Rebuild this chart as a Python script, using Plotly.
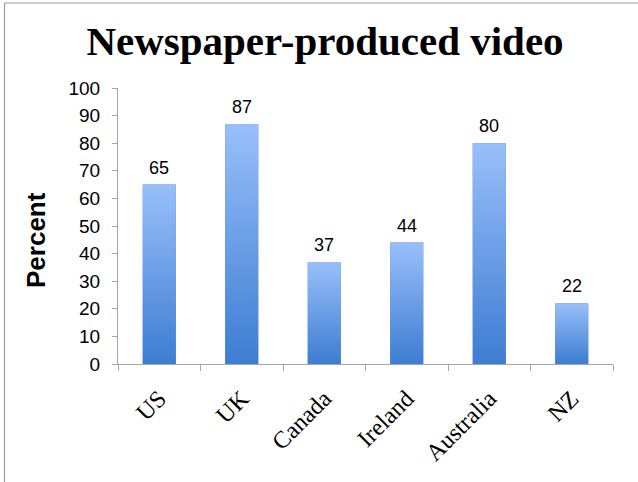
import plotly.graph_objects as go

categories = ["US", "UK", "Canada", "Ireland", "Australia", "NZ"]
values = [65, 87, 37, 44, 80, 22]
y_ticks = list(range(0, 101, 10))
title_text = "Newspaper-produced video"
y_title = "Percent"

W, H = 638, 482
ML, MR, MT, MB = 118, 25, 88, 118
BAR_W = 0.4
TOP_COLOR = "#99bffa"
BOTTOM_COLOR = "#3d7dd2"
AXIS_COLOR = "#a6a6a6"
SANS = "Liberation Sans, Arial, sans-serif"
SERIF = "Liberation Serif, Times New Roman, serif"

idx = list(range(len(categories)))

fig = go.Figure()
fig.add_trace(go.Bar(x=idx, y=values, width=BAR_W, marker=dict(color=BOTTOM_COLOR, line=dict(width=0)),
                     hoverinfo="x+y", showlegend=False))
for i, v in zip(idx, values):
    x0, x1 = i - BAR_W / 2, i + BAR_W / 2
    fig.add_trace(go.Scatter(
        x=[x0, x1, x1, x0, x0], y=[0, 0, v, v, 0], mode="lines", fill="toself",
        line=dict(width=0), hoverinfo="skip", showlegend=False,
        fillgradient=dict(type="vertical", colorscale=[[0, BOTTOM_COLOR], [1, TOP_COLOR]]),
    ))

for i, v in zip(idx, values):
    fig.add_annotation(x=i, y=v, text=str(v), showarrow=False, yanchor="bottom", yshift=5,
                       font=dict(family=SANS, size=18, color="#000000"))

pw = W - ML - MR
ph = H - MT - MB
def px_x(p):
    return (p - ML) / pw
def px_y(p):
    return (H - MB - p) / ph

# y-axis title
fig.add_annotation(xref="paper", yref="paper", x=px_x(36), y=px_y(240), text="<b>" + y_title + "</b>",
                   textangle=-90, showarrow=False, xanchor="center", yanchor="middle",
                   font=dict(family=SANS, size=26, color="#000000"))

fig.add_shape(type="line", xref="paper", yref="paper", x0=px_x(4.5), x1=px_x(W + 5),
              y0=px_y(3), y1=px_y(3), line=dict(color="#a0a0a0", width=1.2))
fig.add_shape(type="line", xref="paper", yref="paper", x0=px_x(4.5), x1=px_x(4.5),
              y0=px_y(3), y1=px_y(H + 5), line=dict(color="#a0a0a0", width=1.2))

fig.update_layout(
    width=W, height=H,
    margin=dict(l=ML, r=MR, t=MT, b=MB),
    paper_bgcolor="white", plot_bgcolor="white",
    title=dict(text=title_text, x=325 / W, xanchor="center", y=1 - 41 / H, yanchor="middle",
               xref="container", yref="container",
               font=dict(family=SERIF, size=41, color="#000000", weight="bold")),
    xaxis=dict(range=[-0.5, len(categories) - 0.5], tickvals=idx, ticktext=categories,
               tickangle=-45, ticks="", showline=True, linecolor=AXIS_COLOR, linewidth=1,
               showgrid=False, zeroline=False, ticklabelstandoff=10,
               tickfont=dict(family=SERIF, size=24, color="#000000"),
               minor=dict(tickvals=[i - 0.5 for i in range(len(categories) + 1)], ticks="outside",
                          ticklen=6, tickcolor=AXIS_COLOR, showgrid=False)),
    yaxis=dict(range=[0, 100], tickvals=y_ticks, ticks="outside", ticklen=5, tickcolor=AXIS_COLOR,
               showline=True, linecolor=AXIS_COLOR, linewidth=1, showgrid=False, zeroline=False,
               tickfont=dict(family=SANS, size=19, color="#000000"), ticklabelstandoff=8),
    bargap=0.6,
)

fig.write_html("out.html")
